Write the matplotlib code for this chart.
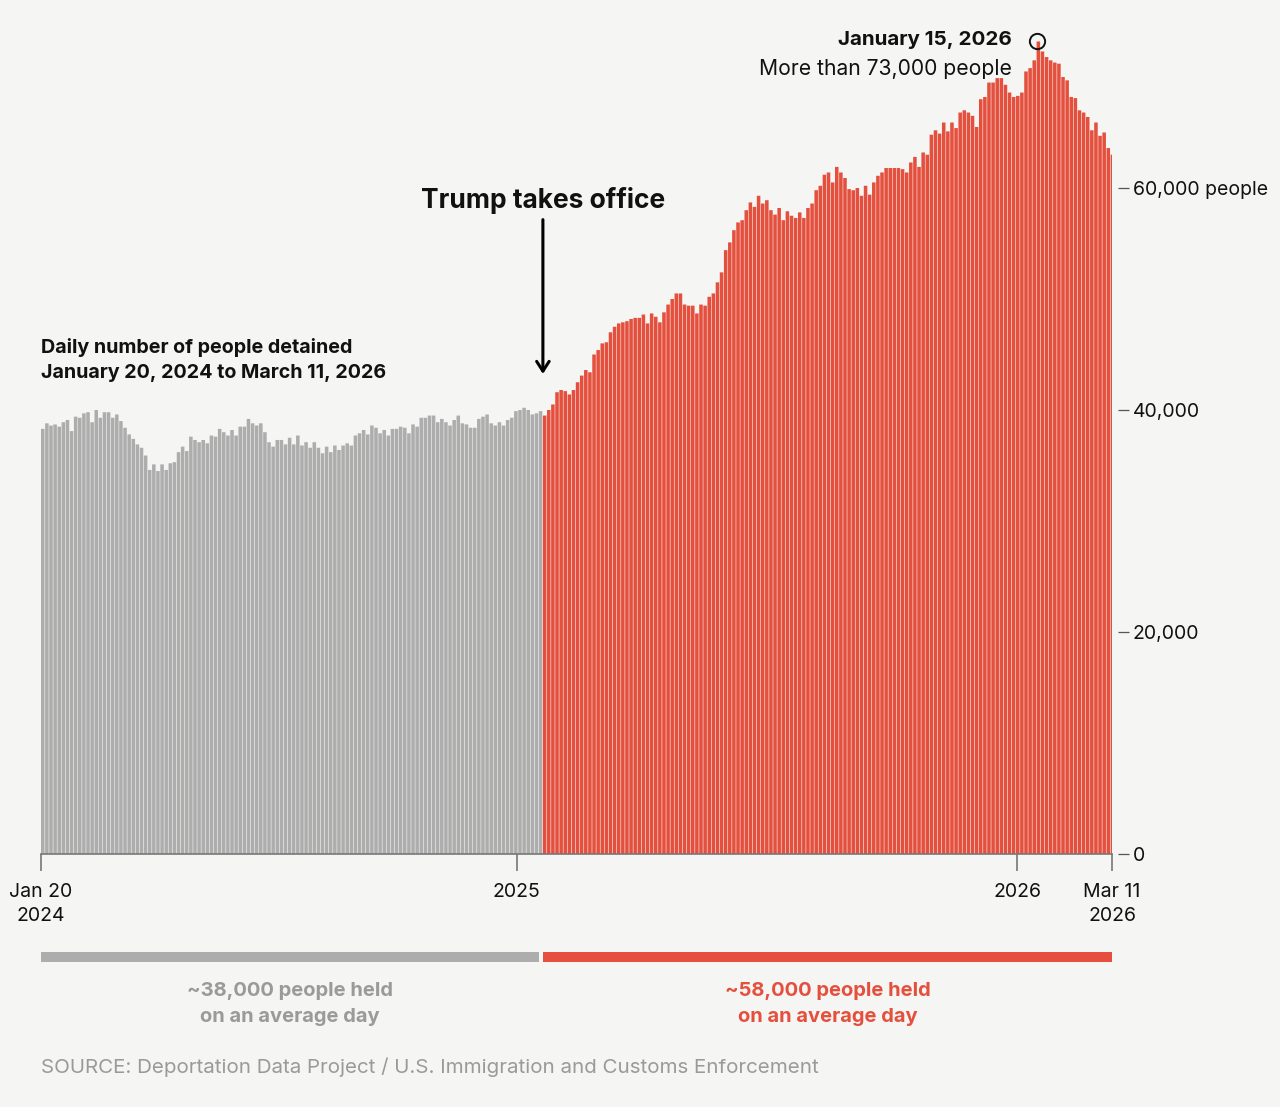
import numpy as np
import pandas as pd

import matplotlib
matplotlib.use("Agg")
import matplotlib.pyplot as plt
import matplotlib.dates as mdates

W, H = 1280, 1107

start_date = "2024-01-20"
end_date = "2026-03-11"
inauguration = "2025-01-20"
peak_date = "2026-01-15"
step_days = 3

# people in detention (thousands), one reading every 3 days from Jan 20, 2024
detained_k = [
    38.3, 38.8, 38.6, 38.7, 38.5, 38.9, 39.1, 38.1, 39.4, 39.3,
    39.7, 39.8, 38.9, 40.0, 39.3, 39.8, 39.8, 39.3, 39.6, 39.0,
    38.4, 37.8, 37.4, 36.9, 36.6, 35.9, 34.6, 35.1, 34.5, 35.1,
    34.6, 35.2, 35.3, 36.2, 36.7, 36.3, 37.6, 37.3, 37.1, 37.3,
    37.0, 37.7, 37.6, 38.3, 38.0, 37.7, 38.2, 37.7, 38.5, 38.5,
    39.2, 38.8, 38.6, 38.8, 38.0, 37.1, 36.7, 37.3, 37.3, 36.9,
    37.5, 36.9, 37.7, 36.8, 37.1, 36.6, 37.1, 36.6, 36.1, 36.7,
    36.2, 36.8, 36.4, 36.8, 37.0, 36.8, 37.7, 37.9, 38.2, 37.8,
    38.6, 38.4, 37.9, 38.2, 37.7, 38.3, 38.3, 38.5, 38.4, 37.9,
    38.7, 38.5, 39.3, 39.3, 39.5, 39.5, 38.9, 39.2, 38.9, 38.6,
    39.1, 39.5, 38.8, 38.7, 38.4, 38.4, 39.2, 39.4, 39.6, 38.8,
    38.6, 38.9, 38.6, 39.1, 39.3, 39.9, 40.0, 40.2, 40.0, 39.6,
    39.7, 39.9, 39.5, 40.0, 40.5, 41.6, 41.8, 41.7, 41.4, 41.8,
    42.5, 43.1, 43.6, 43.4, 45.0, 45.4, 46.0, 46.1, 47.0, 47.5,
    47.8, 47.9, 48.0, 48.2, 48.3, 48.3, 48.6, 47.8, 48.7, 48.4,
    47.9, 48.8, 49.5, 50.0, 50.5, 50.5, 49.5, 49.4, 49.4, 48.7,
    49.5, 49.4, 50.2, 50.5, 51.5, 52.4, 54.4, 55.1, 56.2, 56.9,
    57.1, 58.0, 58.7, 58.3, 59.3, 58.6, 58.9, 58.0, 57.6, 58.2,
    57.1, 57.9, 57.5, 57.3, 57.8, 57.3, 58.2, 58.6, 59.8, 60.2,
    61.2, 61.4, 60.5, 61.9, 61.4, 60.9, 59.9, 59.8, 60.0, 59.3,
    60.2, 59.4, 60.5, 61.1, 61.4, 61.8, 61.8, 61.8, 61.8, 61.7,
    61.4, 62.3, 62.8, 61.9, 63.2, 63.0, 64.8, 65.2, 64.9, 65.9,
    65.1, 65.9, 65.4, 66.8, 67.0, 66.8, 66.5, 65.5, 68.0, 68.2,
    69.5, 69.5, 69.9, 69.9, 69.3, 68.6, 68.2, 68.3, 68.6, 70.5,
    70.8, 71.5, 73.2, 72.3, 71.8, 71.5, 71.3, 71.2, 70.0, 69.7,
    68.2, 68.1, 67.0, 66.8, 66.4, 65.2, 65.9, 64.7, 65.0, 63.6,
    63.0,
]

tick_dates = ["2024-01-20", "2025-01-01", "2026-01-01", "2026-03-11"]
tick_labels = ["Jan 20\n2024", "2025", "2026", "Mar 11\n2026"]
y_ticks = [0, 20000, 40000, 60000]
y_labels = ["0", "20,000", "40,000", "60,000 people"]

avg_before = "~38,000 people held\non an average day"
avg_after = "~58,000 people held\non an average day"

GRAY = "#adadad"
RED = "#e4503d"
BG = "#f5f5f3"
TEXT_GRAY = "#9a9a9a"

plt.rcParams["font.family"] = ["Inter", "DejaVu Sans"]

dates = pd.date_range(start_date, periods=len(detained_k), freq=f"{step_days}D")
values = np.array(detained_k) * 1000
t0 = pd.Timestamp(inauguration)
colors = [RED if d >= t0 else GRAY for d in dates]


def px(x, y):
    return x / W, 1 - y / H


fig = plt.figure(figsize=(W / 100, H / 100), dpi=100, facecolor=BG)
left, width = 41 / W, 1071 / W
ax = fig.add_axes([left, (H - 854) / H, width, 832.5 / H])
ax.set_facecolor(BG)

bars = ax.bar(dates, values, width=step_days * 0.86, align="edge", color=colors, linewidth=0)
for b in bars:
    b.set_snap(False)

x0 = mdates.date2num(pd.Timestamp(start_date))
x1 = mdates.date2num(pd.Timestamp(end_date))
ax.set_xlim(x0, x1)
ax.set_ylim(0, 75000)

for s in ["top", "left", "right"]:
    ax.spines[s].set_visible(False)
ax.spines["bottom"].set_color("#777777")
ax.spines["bottom"].set_linewidth(1.2)

ax.set_xticks([mdates.date2num(pd.Timestamp(d)) for d in tick_dates])
ax.set_xticklabels(tick_labels, linespacing=1.45)
ax.tick_params(axis="x", length=12, width=1.2, color="#777777", pad=9,
               labelsize=14, labelcolor="#111111")

ax.yaxis.tick_right()
ax.spines["right"].set_position(("outward", 4))
ax.set_yticks(y_ticks)
ax.set_yticklabels(y_labels)
ax.tick_params(axis="y", length=8, width=0.9, color="#555555", pad=3,
               labelsize=14, labelcolor="#111111")

# Trump takes office arrow
inaug_num = mdates.date2num(t0)
ax.annotate("", xy=(inaug_num, 43000), xytext=(inaug_num, 57400),
            arrowprops=dict(arrowstyle="->,head_length=0.7,head_width=0.45",
                            color="black", lw=2.2))
ax.text(inaug_num, 58900, "Trump takes office", ha="center", va="center",
        fontsize=19, fontweight="bold", color="#111111")

# peak marker
pk = pd.Timestamp(peak_date)
pk_val = values[list(dates).index(pk)]
ax.plot([mdates.date2num(pk)], [pk_val], "o", ms=11, mfc="none", mec="#111111", mew=1.4)

fig.text(*px(1012, 40), "January 15, 2026", ha="right", va="center",
         fontsize=14.8, fontweight="bold", color="#111111")
fig.text(*px(1012, 69), "More than 73,000 people", ha="right", va="center",
         fontsize=15.2, color="#111111")

fig.text(*px(41, 360), "Daily number of people detained\nJanuary 20, 2024 to March 11, 2026",
         ha="left", va="center", fontsize=14.2, fontweight="bold", color="#111111",
         linespacing=1.45)

# average strips under the axis
ax2 = fig.add_axes([left, (H - 962) / H, width, 10 / H])
ax2.set_xlim(x0, x1)
ax2.set_ylim(0, 1)
ax2.axis("off")
ax2.axvspan(x0, inaug_num - 3, color=GRAY, lw=0)
ax2.axvspan(inaug_num, x1, color=RED, lw=0)

fig.text(*px(290, 1004), avg_before, ha="center", va="center", fontsize=14.5,
         fontweight="bold", color=TEXT_GRAY, linespacing=1.5)
fig.text(*px(828, 1004), avg_after, ha="center", va="center", fontsize=14.5,
         fontweight="bold", color=RED, linespacing=1.5)

fig.text(*px(41, 1067), "SOURCE: Deportation Data Project / U.S. Immigration and Customs Enforcement",
         ha="left", va="center", fontsize=14.8, color=TEXT_GRAY)

fig.savefig("out.png", dpi=100, facecolor=BG)
